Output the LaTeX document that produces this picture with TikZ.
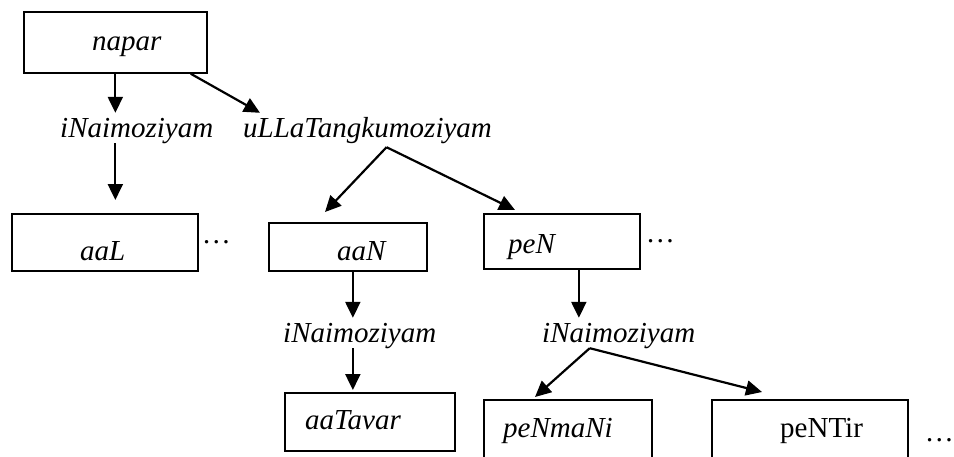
\documentclass[tikz,border=0pt]{standalone}
\usepackage{fontspec}
\setmainfont{Liberation Serif}
\usepackage{tikz}
\usetikzlibrary{arrows.meta,positioning,calc}

\begin{document}
\begin{tikzpicture}[x=1pt, y=-1pt,
  box/.style={draw, line width=1.7pt, inner sep=0pt, anchor=north west},
  word/.style={font=\fontsize{29}{34}\selectfont\itshape, inner sep=0pt, text height=24pt, text depth=6pt, anchor=base west},
  roman/.style={word, font=\fontsize{29}{34}\selectfont\upshape},
  more/.style={font=\fontsize{29}{34}\selectfont, inner sep=0pt, anchor=west},
  arr/.style={-{Triangle[length=16pt,width=15pt]}, line width=2.2pt}]
\clip (0,0) rectangle (954,456);
% boxes
\node[box, minimum width=183pt, minimum height=61pt] (napar) at (23,11) {};
\node[box, minimum width=186pt, minimum height=57pt] (aal) at (11,213) {};
\node[box, minimum width=158pt, minimum height=48pt] (aan) at (268,222) {};
\node[box, minimum width=156pt, minimum height=55pt] (pen) at (483,213) {};
\node[box, minimum width=170pt, minimum height=58pt] (aatavar) at (284,392) {};
\node[box, minimum width=168pt, minimum height=80pt] (penmani) at (483,399) {};
\node[box, minimum width=196pt, minimum height=80pt] (pentir) at (711,399) {};
% words in the boxes
\node[word] (t-napar) at (92,50) {napar};
\node[word] (t-aal) at (80,260) {aaL};
\node[word] (t-aan) at (337,260) {aaN};
\node[word] (t-pen) at (508,253) {peN};
\node[word] (t-aatavar) at (305,429) {aaTavar};
\node[word] (t-penmani) at (503,437) {peNmaNi};
\node[roman] (t-pentir) at (780,437) {peNTir};
\node[more, right=3pt of aal] (d-aal) {\ldots};
\node[more, right=5pt of pen] (d-pen) {\ldots};
\node[more, right=16pt of pentir] (d-pentir) {\ldots};
% relation labels
\node[word] (inai1) at (60,137) {iNaimoziyam};
\node[word] (ulla) at (243,137) {uLLaTangkumoziyam};
\node[word] (inai2) at (283,342) {iNaimoziyam};
\node[word] (inai3) at (542,342) {iNaimoziyam};
\coordinate (c-aan) at ($(aan.south)+(5,0)$);
\coordinate (c-pen) at ($(pen.south)+(17,0)$);
% arrows
\draw[arr] (napar.south) -- (napar.south |- inai1.north);
\draw[arr, shorten >=13pt] (napar.south |- inai1.south) -- (napar.south |- aal.north);
\draw[arr] ($(napar.south east)+(-17,0)$) -- ($(ulla.north west)+(17,0)$);
\draw[arr] ($(ulla.south)+(19,4)$) -- ($(aan.north west)+(57,-10)$);
\draw[arr] ($(ulla.south)+(19,4)$) -- ($(pen.north west)+(32,-3)$);
\draw[arr] (c-aan) -- (c-aan |- inai2.north);
\draw[arr, shorten >=2pt] (c-aan |- inai2.south) -- (c-aan |- aatavar.north);
\draw[arr] (c-pen) -- (c-pen |- inai3.north);
\draw[arr] ($(inai3.south)+(-29,0)$) -- ($(penmani.north west)+(52,-2)$);
\draw[arr] ($(inai3.south)+(-29,0)$) -- ($(pentir.north west)+(51,-7)$);
\end{tikzpicture}
\end{document}
